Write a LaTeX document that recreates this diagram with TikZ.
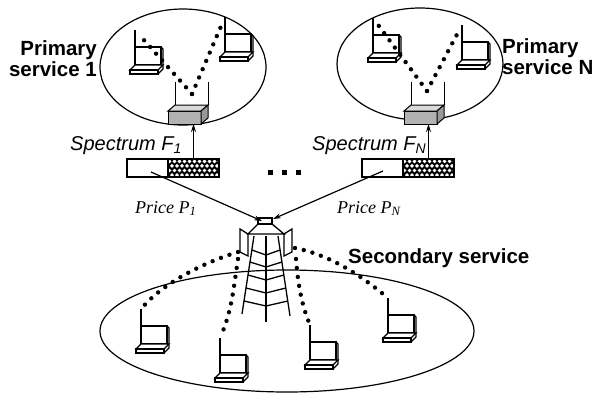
\documentclass[tikz,border=0pt]{standalone}
\usepackage{fontspec}
\setmainfont{Liberation Serif}
\setsansfont{Liberation Sans}
\usepackage{tikz}
\usetikzlibrary{positioning, arrows.meta, shapes.geometric}

% laptop: name, x, y of the screen's lower left corner
\newcommand{\drawlaptop}[3]{%
  \coordinate (#1) at (#2,#3);
  \coordinate (#1-ant) at (#2,#3-35);
  \draw[line width=1.3pt, fill=white] (#2,#3) rectangle (#2+26,#3-18);
  \draw[line width=1.3pt] (#2+26,#3-18) -- (#2+28,#3-16) -- (#2+28,#3);
  \draw[line width=1.2pt, fill=white] (#2-5,#3+5) -- (#2,#3) -- (#2+28,#3) -- (#2+23,#3+5) -- cycle;
  \draw[line width=1.2pt, fill=white] (#2-5,#3+5) rectangle (#2+23,#3+9);
  \draw[line width=1.2pt] (#2+23,#3+9) -- (#2+28,#3+4) -- (#2+28,#3);
  \draw[line width=1.1pt] (#2,#3-18) -- (#1-ant);
}

\begin{document}
\begin{tikzpicture}[x=1pt,y=-1pt,font=\sffamily]
\tikzstyle{cell} = [ellipse, draw=black, line width=1.2pt, inner sep=0pt]
\tikzstyle{idle} = [rectangle, draw=black, line width=1.5pt, fill=white,
minimum width=41pt, minimum height=18pt, inner sep=0pt, outer sep=0pt]
\tikzstyle{sold} = [rectangle, draw=black, line width=1.5pt, fill=black,
minimum width=51pt, minimum height=18pt, inner sep=0pt, outer sep=0pt,
path picture={\foreach \i in {0,...,10} \foreach \j in {0,...,3}
  \fill[white] ([xshift={\i*5pt+mod(\j,2)*2.5pt+1.5pt}, yshift={-\j*4.6pt-2.3pt}]path picture bounding box.north west) circle (1.95);}]
\tikzstyle{apbox} = [rectangle, draw=black, line width=1pt, fill=gray!60,
minimum width=33pt, minimum height=13pt, inner sep=0pt, outer sep=0pt]
\tikzstyle{arrow} = [line width=1.2pt, -{Stealth[length=8pt,width=5pt]}]
\tikzstyle{radio} = [line width=4.4pt, line cap=round, dash pattern=on 0pt off 9pt]
\tikzstyle{title} = [font=\sffamily\bfseries\fontsize{20.5}{21}\selectfont, inner sep=0pt]
\tikzstyle{band} = [font=\sffamily\itshape\fontsize{20}{22}\selectfont, inner sep=0pt]
\tikzstyle{price} = [font=\rmfamily\itshape\fontsize{18}{19}\selectfont, inner sep=0pt]
\tikzstyle{mast} = [line width=1.3pt]

\useasboundingbox (0,0) rectangle (595,394);

\node (cell1) [cell, minimum width=166pt, minimum height=116pt] at (183,67) {};
\node (cellN) [cell, minimum width=166pt, minimum height=112pt] at (420,64) {};
\node (cellS) [cell, minimum width=374pt, minimum height=122pt] at (287,331) {};

\drawlaptop{pc11}{135}{65}
\drawlaptop{pc12}{225}{52}
\drawlaptop{pcN1}{373}{53}
\drawlaptop{pcN2}{462}{60}
\drawlaptop{su1}{141}{344}
\drawlaptop{su2}{220}{373}
\drawlaptop{su3}{310}{360}
\drawlaptop{su4}{388}{333}

% primary access points
\node (ap1) [apbox] at (184.5,117.5) {};
\draw[line width=1pt, fill=gray!30] (ap1.north west) -- ++(7,-6) -- ++(33,0) -- (ap1.north east) -- cycle;
\draw[line width=1pt, fill=gray!80] (ap1.north east) -- ++(7,-6) -- ++(0,13) -- (ap1.south east) -- cycle;
\draw[line width=1pt] (ap1.north west) ++(7,-6) -- ++(0,-23);
\draw[line width=1pt] (ap1.north east) ++(7,-6) -- ++(0,-23);
\coordinate (v1) at (192,94);

\node (apN) [apbox] at (420.5,117.5) {};
\draw[line width=1pt, fill=gray!30] (apN.north west) -- ++(7,-6) -- ++(33,0) -- (apN.north east) -- cycle;
\draw[line width=1pt, fill=gray!80] (apN.north east) -- ++(7,-6) -- ++(0,13) -- (apN.south east) -- cycle;
\draw[line width=1pt] (apN.north west) ++(7,-6) -- ++(0,-23);
\draw[line width=1pt] (apN.north east) ++(7,-6) -- ++(0,-23);
\coordinate (vN) at (427,91);

\draw[radio, shorten >=5pt] (v1) -- (pc11-ant);
\draw[radio, shorten >=5pt] (v1) -- (pc12-ant);
\draw[radio, shorten >=5pt] (vN) -- (pcN1-ant);
\draw[radio, shorten >=5pt] (vN) -- (pcN2-ant);

% spectrum bands
\node (idle1) [idle] at (147.5,168) {};
\node (sold1) [sold, right=0pt of idle1] {};
\node (idleN) [idle] at (382.5,168) {};
\node (soldN) [sold, right=0pt of idleN] {};
\foreach \x in {270,284,298}
  \fill (\x-2,170) rectangle ++(4.5,4.5);

\draw[arrow] (sold1.north) -- (sold1.north |- ap1.south);
\draw[arrow] (soldN.north) -- (soldN.north |- apN.south);

% secondary base station
\draw[mast] (258,218) rectangle (272,224);
\draw[mast] (258,224) -- (248,234) -- (284,234) -- (272,224);
\draw[mast] (240,229) -- (248,234) -- (248,256) -- (240,252) -- cycle;
\draw[mast] (292,229) -- (284,234) -- (284,256) -- (292,252) -- cycle;
\draw[mast] (254,236) -- (242,314);
\draw[mast] (278,236) -- (290,316);
\draw[mast] (266,236) -- (266,322);
\foreach \y in {250,262,275,288,301}
  \draw[mast] ({254-(\y-236)*0.154},\y) -- (266,\y+5) -- ({278+(\y-236)*0.15},\y);

\coordinate (src1) at (151,172);
\coordinate (srcN) at (383,171);
\coordinate (mastl) at (262,221);
\coordinate (mastr) at (273,219);
\draw[arrow] (src1) -- (mastl);
\draw[arrow] (srcN) -- (mastr);

\coordinate (panl) at (238,252);
\coordinate (panl2) at (238,259);
\coordinate (panr) at (295,248);
\coordinate (panr2) at (296,259);
\draw[radio, shorten >=4pt] (panl) .. controls (205,262) and (165,282) .. (su1-ant);
\draw[radio, shorten >=4pt] (panl2) .. controls (234,285) and (232,310) .. (su2-ant);
\draw[radio, shorten >=4pt] (panr2) .. controls (298,285) and (302,305) .. (su3-ant);
\draw[radio, shorten >=4pt] (panr) .. controls (330,255) and (360,275) .. (su4-ant);

% labels
\node[title, align=right, anchor=north east] (pri1) at (97,40) {Primary\\service 1};
\node[title, align=left, anchor=north west] (priN) at (502,38) {Primary\\service N};
\node[title, anchor=base west] (sec) at (348,263) {Secondary service};
\node[band, anchor=base west] (spec1) at (70,150) {Spectrum F\textsubscript{1}};
\node[band, anchor=base west] (specN) at (312,150) {Spectrum F\textsubscript{N}};
\node[price, anchor=base west] (price1) at (135,213) {Price P\textsubscript{1}};
\node[price, anchor=base west] (priceN) at (337,213) {Price P\textsubscript{N}};

\end{tikzpicture}
\end{document}
